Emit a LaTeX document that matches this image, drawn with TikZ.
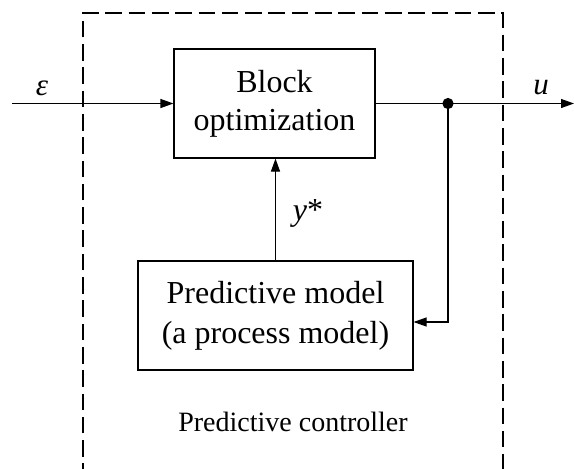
\documentclass[tikz,border=0pt]{standalone}
\usepackage{fontspec}
\setmainfont{Liberation Serif}
\usetikzlibrary{arrows.meta}
\begin{document}
\begin{tikzpicture}[x=0.5pt,y=-0.5pt,
  line width=0.55pt,
  blockbox/.style={draw, rectangle, inner sep=0pt, align=center,
    minimum width=#1, minimum height=54.5pt, font=\fontsize{16}{19}\selectfont},
  conn/.style={-{Triangle[length=6.5pt,width=4.5pt]}},
  boundary/.style={dash pattern=on 8.3pt off 3.35pt, line width=0.55pt},
  sym/.style={font=\fontsize{15.5}{18}\selectfont\itshape, inner sep=0pt},
  caption/.style={font=\fontsize{14}{17}\selectfont, inner sep=0pt}]
\useasboundingbox (0,0) rectangle (574,468);
% dashed controller boundary (open at the bottom)
\begin{scope}
\clip (0,0) rectangle (574,468);
\draw[boundary] (83,480) -- (83,13) -- (503,13) -- (503,480);
\end{scope}
% blocks
\node[blockbox=100.5pt] (blk) at (274.5,103.5) {Block\\optimization};
\node[blockbox=137.5pt, font=\fontsize{16}{20}\selectfont] (pm) at (275.5,315.5) {Predictive model\\(a process model)};
% points
\coordinate (in) at (12,103.5);
\coordinate (out) at (574,103.5);
\coordinate (dot) at (448,103.5);
\coordinate (fb) at (448,322);
% connectors
\draw[conn] (in) -- (blk.west);
\draw[conn] (blk.east) -- (out);
\fill (dot) circle (2.8pt);
\draw[conn] (dot) -- (fb) -- (pm.east |- fb);
\draw[conn] (pm.north) -- (pm.north |- blk.south);
% labels
\node[sym] (eps) at (42,88) {ε};
\node[sym] (u) at (541,88) {u};
\node[sym, font=\fontsize{16}{18}\selectfont] (ystar) at (308,213) {\textit{y}*};
\node[caption] (cap) at (293,422) {Predictive controller};
\end{tikzpicture}
\end{document}
